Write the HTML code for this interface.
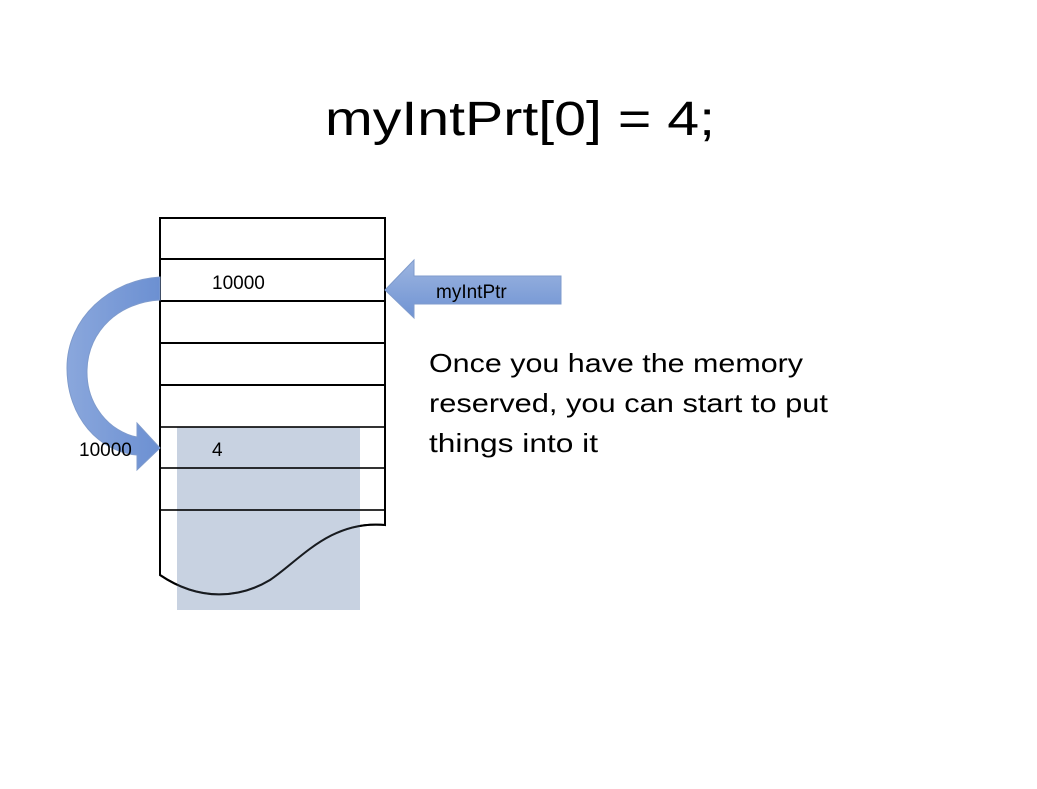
<!DOCTYPE html>
<html><head><meta charset="utf-8"><style>
html,body{margin:0;padding:0;background:#fff;}
svg{display:block;}
text{font-family:"Liberation Sans",sans-serif;fill:#000;}
</style></head><body>
<svg width="1037" height="789" viewBox="0 0 1037 789" xmlns="http://www.w3.org/2000/svg">
<defs>
<linearGradient id="g1" x1="0" y1="0" x2="0" y2="1">
<stop offset="0" stop-color="#9db5e0"/><stop offset="1" stop-color="#6f93d3"/>
</linearGradient>
<linearGradient id="g2" x1="0" y1="0" x2="1" y2="0">
<stop offset="0" stop-color="#8aa7dc"/><stop offset="1" stop-color="#6c90d2"/>
</linearGradient>
</defs>
<text x="325" y="135" font-size="48" textLength="390" lengthAdjust="spacingAndGlyphs">myIntPrt[0] = 4;</text>

<!-- memory box -->
<path d="M160,218 H385 V525 C330,520 300,560 270,580 C240,598 200,602 160,575 Z" fill="#fff" stroke="#000" stroke-width="2"/>
<rect x="177" y="427" width="183" height="183" fill="#a3b4cd" fill-opacity="0.6"/>
<g stroke="#000" stroke-width="2" fill="none">
<path d="M160,218 H385 V525 C330,520 300,560 270,580 C240,598 200,602 160,575 Z" stroke-opacity="0.75"/>
<line x1="160" y1="259" x2="385" y2="259"/>
<line x1="160" y1="301" x2="385" y2="301"/>
<line x1="160" y1="343" x2="385" y2="343"/>
<line x1="160" y1="385" x2="385" y2="385"/>
<line x1="160" y1="427" x2="385" y2="427" stroke-opacity="0.8"/>
<line x1="160" y1="468" x2="385" y2="468" stroke-opacity="0.8"/>
<line x1="160" y1="510" x2="385" y2="510" stroke-opacity="0.8"/>
</g>

<text x="212" y="289" font-size="19">10000</text>
<text x="212" y="456" font-size="19">4</text>

<!-- right arrow -->
<path d="M385,290 L414,260 L414,276 L561,276 L561,304 L414,304 L414,318 Z" fill="url(#g1)" stroke="#7f9bcc" stroke-width="1"/>
<text x="436" y="298" font-size="19">myIntPtr</text>

<!-- curved arrow -->
<path d="M160,277 C110,280 67,318 67,368 C67,418 100,452 137,455 L137,470 L160,448 L137,423 L137,437 C110,432 86,405 87,370 C88,330 120,302 160,300 Z" fill="url(#g2)" stroke="#7f9bcc" stroke-width="1"/>
<text x="79" y="456" font-size="19">10000</text>

<text font-size="26">
<tspan x="429" y="372" textLength="374" lengthAdjust="spacingAndGlyphs">Once you have the memory</tspan>
<tspan x="429" y="412" textLength="399" lengthAdjust="spacingAndGlyphs">reserved, you can start to put</tspan>
<tspan x="429" y="452" textLength="169" lengthAdjust="spacingAndGlyphs">things into it</tspan>
</text>
</svg>
</body></html>
